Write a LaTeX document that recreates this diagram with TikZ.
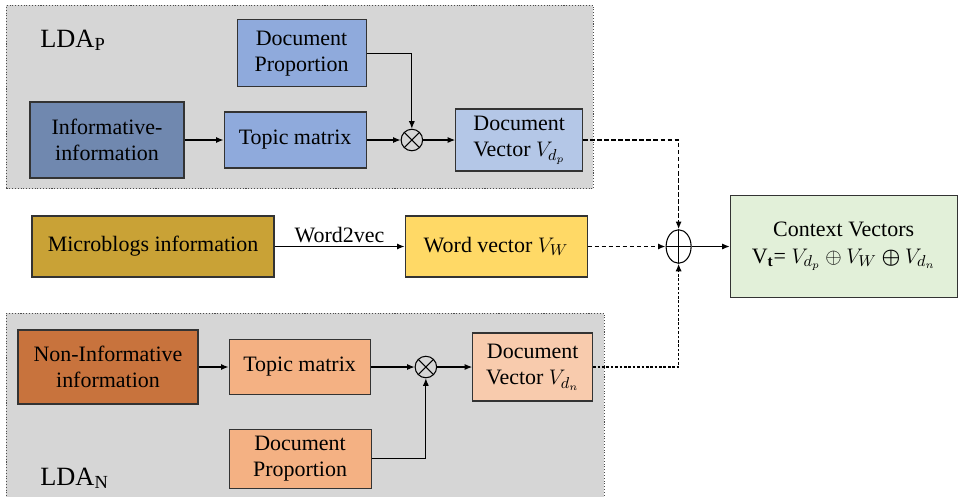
\documentclass[tikz,border=0pt]{standalone}
\usepackage{amsmath,amssymb}
\usepackage{fontspec}
\setmainfont{Liberation Serif}
\usepackage{tikz}
\usetikzlibrary{arrows.meta,positioning,fit,backgrounds,shapes.geometric}
\definecolor{grpgray}{HTML}{D6D6D6}
\definecolor{bluedark}{HTML}{7088AF}
\definecolor{bluemid}{HTML}{8FAADC}
\definecolor{bluelight}{HTML}{B4C7E7}
\definecolor{gold}{HTML}{C9A236}
\definecolor{sunny}{HTML}{FFD966}
\definecolor{ctxgreen}{HTML}{E2F0D9}
\definecolor{rust}{HTML}{C8733D}
\definecolor{peach}{HTML}{F4B183}
\definecolor{lightpeach}{HTML}{F8CBAD}

\begin{document}
\begin{tikzpicture}[
  blk/.style={draw=black!80,line width=0.6pt,align=center,inner sep=1pt,font=\fontsize{12.5}{15}\selectfont},
  mul/.style={circle,draw,line width=0.6pt,minimum size=0.43cm,inner sep=0pt,path picture={\draw (path picture bounding box.north west)--(path picture bounding box.south east) (path picture bounding box.north east)--(path picture bounding box.south west);}},
  add/.style={ellipse,draw,line width=0.6pt,minimum width=0.5cm,minimum height=0.67cm,inner sep=0pt,path picture={\draw (path picture bounding box.north)--(path picture bounding box.south) (path picture bounding box.west)--(path picture bounding box.east);}},
  grp/.style={draw=black!70,densely dotted,line width=0.6pt,fill=grpgray,inner sep=0.2cm},
  lda/.style={anchor=base west,inner sep=0pt,font=\fontsize{15}{18}\selectfont},
  arr/.style={-{Latex[length=1.5mm,width=1.2mm]},line width=0.6pt},
  darr/.style={arr,line width=0.9pt,dash pattern=on 2.5pt off 1.5pt},
  tarr/.style={arr,dash pattern=on 1.5pt off 1pt}
]
\useasboundingbox (0,0) rectangle (19.18,-9.92);
\node[blk,fill=bluedark,minimum width=3.08cm,minimum height=1.52cm] (infP) at (2.14,-2.80) {Informative-\\information};
\node[blk,fill=bluemid,minimum width=2.84cm,minimum height=1.12cm,right=0.78cm of infP] (topicP) {Topic matrix};
\node[mul,right=0.68cm of topicP] (mulP) {};
\node[blk,fill=bluelight,minimum width=2.54cm,minimum height=1.24cm,right=0.64cm of mulP] (vecP) {Document\\Vector $V_{d_p}$};
\node[blk,fill=bluemid,minimum width=2.58cm,minimum height=1.34cm,above=0.48cm of topicP.north east,anchor=south east] (propP) {Document\\Proportion};
\node[lda] (ldaP) at (0.8,-0.94) {LDA\textsubscript{P}};

\node[blk,fill=gold,minimum width=4.84cm,minimum height=1.22cm] (micro) at (3.06,-4.93) {Microblogs information};
\node[blk,fill=sunny,minimum width=3.64cm,minimum height=1.22cm,right=2.6cm of micro] (wordv) {Word vector $V_W$};
\node[add,right=1.56cm of wordv] (sum) {};
\node[blk,fill=ctxgreen,minimum width=4.54cm,minimum height=2.04cm,right=0.76cm of sum] (ctx) {Context Vectors\\V\textsubscript{\textbf{t}}= $V_{d_p}\oplus V_W \boldsymbol{\oplus} V_{d_n}$};

\node[blk,fill=rust,minimum width=3.6cm,minimum height=1.48cm] (infN) at (2.16,-7.34) {Non-Informative\\information};
\node[blk,fill=peach,minimum width=2.82cm,minimum height=1.1cm,right=0.6cm of infN] (topicN) {Topic matrix};
\node[mul,right=0.88cm of topicN] (mulN) {};
\node[blk,fill=lightpeach,minimum width=2.4cm,minimum height=1.36cm,right=0.7cm of mulN] (vecN) {Document\\Vector $V_{d_n}$};
\node[blk,fill=peach,minimum width=2.84cm,minimum height=1.17cm,below=0.68cm of topicN.south west,anchor=north west] (propN) {Document\\Proportion};
\node[lda] (ldaN) at (0.8,-9.70) {LDA\textsubscript{N}};

\begin{scope}[on background layer]
\node[grp,fit={([xshift=-0.26cm]infP.west) ([yshift=0.08cm]propP.north) (vecP) (infP)}] (grpP) {};
\node[grp,inner sep=0.22cm,fit={([yshift=0.1cm]infN.north) (vecN) (propN) (infN)}] (grpN) {};
\end{scope}

\draw[arr] (infP) -- (topicP);
\draw[arr] (topicP) -- (mulP);
\draw[arr] (mulP) -- (vecP);
\draw[arr] (propP.east) -| (mulP.north);
\draw[arr] (micro) -- node[above,inner sep=2pt,font=\fontsize{12.5}{15}\selectfont] (w2v) {Word2vec} (wordv);
\draw[darr] (wordv) -- (sum);
\draw[darr] (vecP.east) -| (sum.north);
\draw[arr] (sum) -- (ctx);
\draw[arr] (infN) -- (topicN);
\draw[arr] (topicN) -- (mulN);
\draw[arr] (mulN) -- (vecN);
\draw[arr] (propN.east) -| (mulN.south);
\draw[tarr] (vecN.east) -| (sum.south);
\end{tikzpicture}
\end{document}
